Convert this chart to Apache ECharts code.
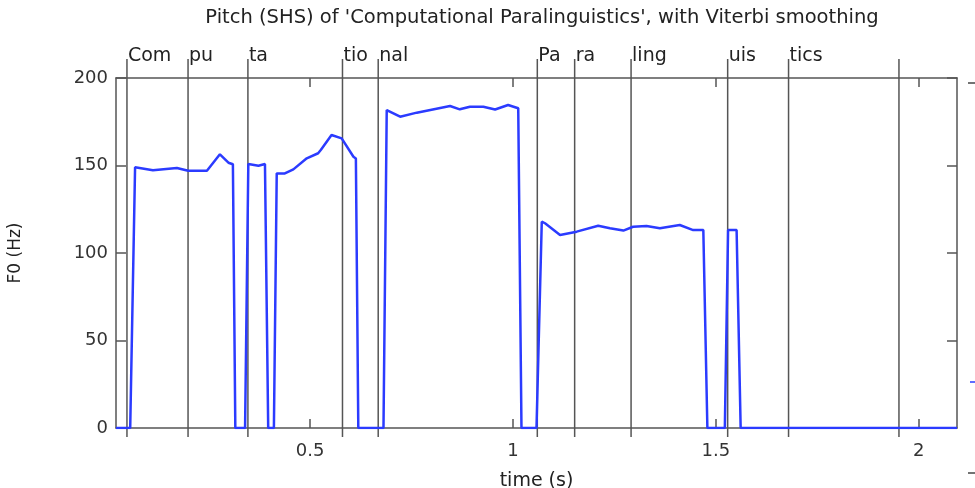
<!DOCTYPE html>
<html>
<head>
<meta charset="utf-8">
<script src="https://cdn.jsdelivr.net/npm/echarts@6/dist/echarts.min.js"></script>
<style>
  html, body { margin: 0; padding: 0; background: #fff; }
  #pitch-chart { width: 975px; height: 488px; }
</style>
</head>
<body>
<div id="pitch-chart"></div>
<script>
// pitch track (time in s, F0 in Hz, 0 = unvoiced)
const times = [0.022, 0.057, 0.069, 0.113, 0.172, 0.200, 0.246, 0.278, 0.299, 0.310,
  0.316, 0.340, 0.348, 0.373, 0.389, 0.397, 0.411, 0.418, 0.438, 0.459,
  0.492, 0.520, 0.527, 0.553, 0.578, 0.607, 0.613, 0.619, 0.681, 0.689,
  0.722, 0.763, 0.845, 0.869, 0.894, 0.927, 0.956, 0.988, 1.013, 1.021,
  1.058, 1.071, 1.079, 1.116, 1.157, 1.210, 1.239, 1.272, 1.296, 1.329,
  1.362, 1.411, 1.444, 1.469, 1.479, 1.522, 1.530, 1.551, 1.561, 2.094];
const f0 = [0, 0, 149, 147.3, 148.6, 147, 147, 156.4, 151.6, 150.7,
  0, 0, 150.9, 149.9, 150.9, 0, 0, 145.5, 145.5, 147.8,
  154.1, 157, 159, 167.4, 165.5, 155, 154, 0, 0, 181.7,
  177.9, 180.2, 184, 182.1, 183.6, 183.6, 182, 184.6, 182.7, 0,
  0, 117.9, 117, 110.3, 112.2, 115.6, 114.1, 112.8, 115, 115.4,
  114.1, 116, 113.1, 113.1, 0, 0, 113.1, 113.1, 0, 0];

// syllable boundaries
const syllableTimes = [0.049, 0.1995, 0.347, 0.580, 0.668, 1.060, 1.152, 1.291, 1.529, 1.679, 1.951];
const syllableNames = ['Com', 'pu', 'ta', 'tio', 'nal', 'Pa', 'ra', 'ling', 'uis', 'tics', ''];

const xTicks = [0.5, 1, 1.5, 2];

const font = 'DejaVu Sans';
const frameColor = '#555';

const chart = echarts.init(document.getElementById('pitch-chart'));

const option = {
  animation: false,
  title: {
    text: "Pitch (SHS) of 'Computational Paralinguistics', with Viterbi smoothing",
    left: 537,
    textAlign: 'center',
    top: 3,
    textStyle: { fontFamily: font, fontSize: 19.5, fontWeight: 'normal', color: '#222' }
  },
  grid: { left: 116, top: 78, width: 841, height: 350, outerBoundsMode: 'none', containLabel: false },
  xAxis: [{
    type: 'value',
    min: 0.022,
    max: 2.094,
    name: 'time (s)',
    nameLocation: 'middle',
    nameGap: 44,
    nameTextStyle: { fontFamily: font, fontSize: 19, color: '#222' },
    axisLine: { show: true, onZero: false, lineStyle: { color: frameColor, width: 1.5 } },
    axisTick: { inside: true, length: 9, customValues: xTicks, lineStyle: { color: frameColor, width: 1.5 } },
    axisLabel: { customValues: xTicks, margin: 14, fontFamily: font, fontSize: 18, color: '#333' },
    splitLine: { show: false }
  }, {
    type: 'value',
    position: 'top',
    min: 0.022,
    max: 2.094,
    axisLine: { show: true, onZero: false, lineStyle: { color: frameColor, width: 1.5 } },
    axisTick: { inside: true, length: 9, customValues: xTicks, lineStyle: { color: frameColor, width: 1.5 } },
    axisLabel: { show: false },
    splitLine: { show: false }
  }],
  yAxis: [{
    type: 'value',
    min: 0,
    max: 200,
    interval: 50,
    name: 'F0 (Hz)',
    nameLocation: 'middle',
    nameRotate: 90,
    nameGap: 92,
    nameTextStyle: { fontFamily: font, fontSize: 17, color: '#222' },
    axisLine: { show: true, onZero: false, lineStyle: { color: frameColor, width: 1.5 } },
    axisTick: { show: true, inside: true, length: 10, lineStyle: { color: frameColor, width: 1.5 } },
    axisLabel: { margin: 8, fontFamily: font, fontSize: 18, color: '#333' },
    splitLine: { show: false }
  }, {
    type: 'value',
    position: 'right',
    min: 0,
    max: 200,
    interval: 50,
    axisLine: { show: true, onZero: false, lineStyle: { color: frameColor, width: 1.5 } },
    axisTick: { show: true, inside: true, length: 10, lineStyle: { color: frameColor, width: 1.5 } },
    axisLabel: { show: false },
    splitLine: { show: false }
  }],
  series: [{
    name: 'F0',
    type: 'line',
    data: times.map((t, i) => [t, f0[i]]),
    showSymbol: false,
    lineStyle: { color: '#2b3bff', width: 2.5 },
    z: 3
  }, {
    name: 'syllables',
    type: 'custom',
    clip: false,
    z: 2,
    data: syllableTimes.map((t, i) => [t, syllableNames[i]]),
    renderItem: function (params, api) {
      const top = api.coord([api.value(0), 200]);
      const bottom = api.coord([api.value(0), 0]);
      return {
        type: 'group',
        children: [{
          type: 'line',
          shape: { x1: top[0], y1: top[1] - 19, x2: bottom[0], y2: bottom[1] + 9 },
          style: { stroke: frameColor, lineWidth: 1.5 }
        }, {
          type: 'text',
          style: {
            text: syllableNames[params.dataIndex],
            x: top[0] + 1,
            y: top[1] - 22,
            textVerticalAlign: 'middle',
            fontFamily: font,
            fontSize: 19,
            fill: '#222'
          }
        }]
      };
    }
  }],
  graphic: [
    { type: 'line', shape: { x1: 968, y1: 83, x2: 976, y2: 83 }, style: { stroke: '#444', lineWidth: 1.5 } },
    { type: 'line', shape: { x1: 970, y1: 382, x2: 976, y2: 382 }, style: { stroke: '#2b3bff', lineWidth: 1.5 } },
    { type: 'line', shape: { x1: 968, y1: 473, x2: 976, y2: 473 }, style: { stroke: '#444', lineWidth: 1.5 } }
  ]
};

chart.setOption(option);
</script>
</body>
</html>
